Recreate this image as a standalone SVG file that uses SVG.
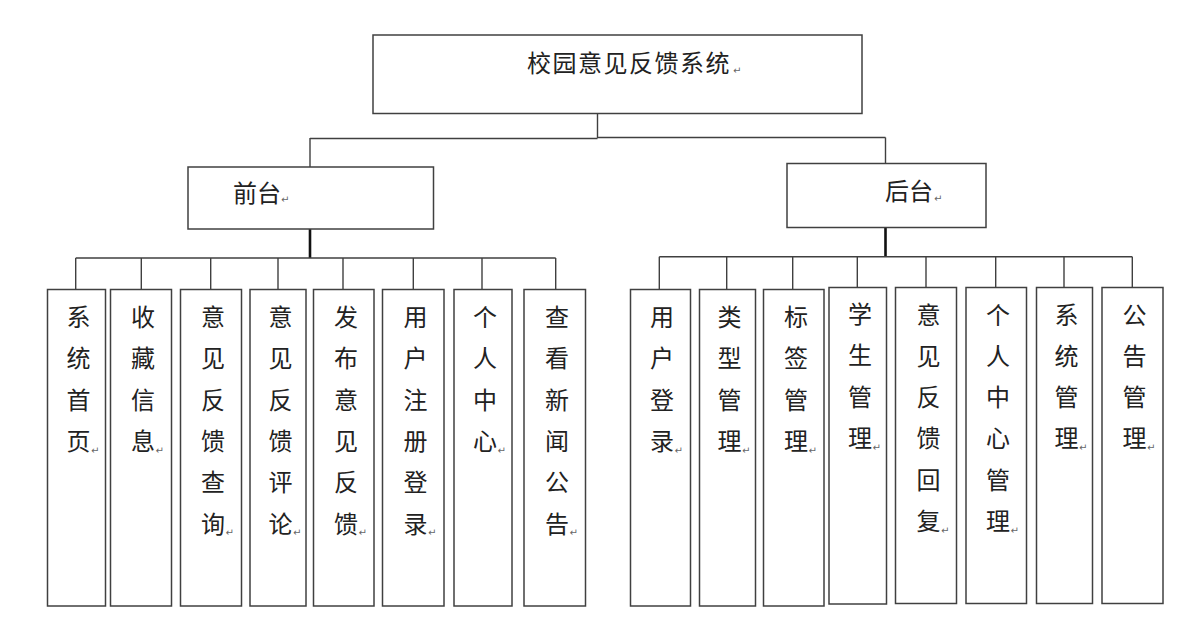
<svg xmlns="http://www.w3.org/2000/svg" width="1188" height="625" viewBox="0 0 1188 625">
<style>
.box{fill:#fff;stroke:#404040;stroke-width:1.5}
.ln{fill:none;stroke:#404040;stroke-width:1.4}
.thk{fill:none;stroke:#111;stroke-width:2.6}
.t{font-family:"Noto Sans CJK SC","Noto Sans CJK JP",sans-serif;font-size:24px;fill:#222}
.v{font-family:"Noto Sans CJK SC","Noto Sans CJK JP",sans-serif;font-size:24px;fill:#222;text-anchor:middle}
.m{font-family:"DejaVu Sans",sans-serif;font-size:10px;fill:#666}
</style>
<rect width="1188" height="625" fill="#fff"/>
<g id="connectors">
<path class="ln" d="M597.5 113.5V138M310 138.5H597.5M597.5 137.5H885.5M310 138V167M885.5 137.5V163.5"/>
<path class="thk" d="M310 229V258M885.5 227.5V257"/>
<path class="ln" d="M75.7 258H555.7M75.7 258V289.5M141.3 258V289.5M210.7 258V289.5M278 258V289.5M343 258V289.5M413.3 258V289.5M482 258V289.5M555.7 258V289.5"/>
<path class="ln" d="M659.3 256.7H1132.3M659.3 256.7V289.5M726.7 256.7V289.5M792.7 256.7V289.5M857.3 256.7V287.5M926 256.7V287.5M995.7 256.7V287.5M1064 256.7V287.5M1132.3 256.7V287.5"/>
</g>
<g id="root"><rect class="box" x="373" y="35" width="489" height="78.5"/><text class="t" x="527" y="72" letter-spacing="1.5">校园意见反馈系统</text><text class="m" x="733" y="74">↵</text></g>
<g id="front"><rect class="box" x="188" y="167" width="245.5" height="62"/><text class="t" x="233" y="201.5">前台</text><text class="m" x="281" y="203">↵</text></g>
<g id="back"><rect class="box" x="787" y="163.5" width="199" height="64"/><text class="t" x="885" y="200">后台</text><text class="m" x="934" y="202">↵</text></g>

<g id="f1"><rect class="box" x="47.5" y="289.5" width="58" height="316.5"/><text class="v"><tspan x="78.5" y="326">系</tspan><tspan x="78.5" dy="41.3">统</tspan><tspan x="78.5" dy="41.3">首</tspan><tspan x="78.5" dy="41.3">页</tspan></text><text class="m" x="91" y="453.5">↵</text></g>
<g id="f2"><rect class="box" x="110.5" y="289.5" width="61" height="316.5"/><text class="v"><tspan x="143" y="326">收</tspan><tspan x="143" dy="41.3">藏</tspan><tspan x="143" dy="41.3">信</tspan><tspan x="143" dy="41.3">息</tspan></text><text class="m" x="155.5" y="453.5">↵</text></g>
<g id="f3"><rect class="box" x="180.5" y="289.5" width="61" height="316.5"/><text class="v"><tspan x="213" y="326">意</tspan><tspan x="213" dy="41.3">见</tspan><tspan x="213" dy="41.3">反</tspan><tspan x="213" dy="41.3">馈</tspan><tspan x="213" dy="41.3">查</tspan><tspan x="213" dy="41.3">询</tspan></text><text class="m" x="225.5" y="536">↵</text></g>
<g id="f4"><rect class="box" x="250" y="289.5" width="56" height="316.5"/><text class="v"><tspan x="280.5" y="326">意</tspan><tspan x="280.5" dy="41.3">见</tspan><tspan x="280.5" dy="41.3">反</tspan><tspan x="280.5" dy="41.3">馈</tspan><tspan x="280.5" dy="41.3">评</tspan><tspan x="280.5" dy="41.3">论</tspan></text><text class="m" x="293" y="536">↵</text></g>
<g id="f5"><rect class="box" x="313.5" y="289.5" width="60.5" height="316.5"/><text class="v"><tspan x="346" y="326">发</tspan><tspan x="346" dy="41.3">布</tspan><tspan x="346" dy="41.3">意</tspan><tspan x="346" dy="41.3">见</tspan><tspan x="346" dy="41.3">反</tspan><tspan x="346" dy="41.3">馈</tspan></text><text class="m" x="358.5" y="536">↵</text></g>
<g id="f6"><rect class="box" x="382.5" y="289.5" width="61.5" height="316.5"/><text class="v"><tspan x="415.5" y="326">用</tspan><tspan x="415.5" dy="41.3">户</tspan><tspan x="415.5" dy="41.3">注</tspan><tspan x="415.5" dy="41.3">册</tspan><tspan x="415.5" dy="41.3">登</tspan><tspan x="415.5" dy="41.3">录</tspan></text><text class="m" x="428" y="536">↵</text></g>
<g id="f7"><rect class="box" x="454" y="289.5" width="58" height="316.5"/><text class="v"><tspan x="485" y="326">个</tspan><tspan x="485" dy="41.3">人</tspan><tspan x="485" dy="41.3">中</tspan><tspan x="485" dy="41.3">心</tspan></text><text class="m" x="497.5" y="453.5">↵</text></g>
<g id="f8"><rect class="box" x="524" y="289.5" width="61.5" height="316.5"/><text class="v"><tspan x="557" y="326">查</tspan><tspan x="557" dy="41.3">看</tspan><tspan x="557" dy="41.3">新</tspan><tspan x="557" dy="41.3">闻</tspan><tspan x="557" dy="41.3">公</tspan><tspan x="557" dy="41.3">告</tspan></text><text class="m" x="569.5" y="536">↵</text></g>

<g id="b1"><rect class="box" x="630.5" y="289.5" width="60" height="316.5"/><text class="v"><tspan x="662" y="326">用</tspan><tspan x="662" dy="41.3">户</tspan><tspan x="662" dy="41.3">登</tspan><tspan x="662" dy="41.3">录</tspan></text><text class="m" x="674.5" y="453.5">↵</text></g>
<g id="b2"><rect class="box" x="699.5" y="289.5" width="56" height="316.5"/><text class="v"><tspan x="729.5" y="326">类</tspan><tspan x="729.5" dy="41.3">型</tspan><tspan x="729.5" dy="41.3">管</tspan><tspan x="729.5" dy="41.3">理</tspan></text><text class="m" x="742" y="453.5">↵</text></g>
<g id="b3"><rect class="box" x="763.5" y="289.5" width="60.5" height="316.5"/><text class="v"><tspan x="796" y="326">标</tspan><tspan x="796" dy="41.3">签</tspan><tspan x="796" dy="41.3">管</tspan><tspan x="796" dy="41.3">理</tspan></text><text class="m" x="808.5" y="453.5">↵</text></g>
<g id="b4"><rect class="box" x="829" y="287.5" width="57.5" height="316.5"/><text class="v"><tspan x="860" y="323">学</tspan><tspan x="860" dy="41.3">生</tspan><tspan x="860" dy="41.3">管</tspan><tspan x="860" dy="41.3">理</tspan></text><text class="m" x="872.5" y="450.5">↵</text></g>
<g id="b5"><rect class="box" x="895.5" y="287.5" width="61" height="316"/><text class="v"><tspan x="928.5" y="323.5">意</tspan><tspan x="928.5" dy="41.3">见</tspan><tspan x="928.5" dy="41.3">反</tspan><tspan x="928.5" dy="41.3">馈</tspan><tspan x="928.5" dy="41.3">回</tspan><tspan x="928.5" dy="41.3">复</tspan></text><text class="m" x="941" y="533.5">↵</text></g>
<g id="b6"><rect class="box" x="966" y="287.5" width="60.5" height="316"/><text class="v"><tspan x="998" y="323.5">个</tspan><tspan x="998" dy="41.3">人</tspan><tspan x="998" dy="41.3">中</tspan><tspan x="998" dy="41.3">心</tspan><tspan x="998" dy="41.3">管</tspan><tspan x="998" dy="41.3">理</tspan></text><text class="m" x="1010.5" y="533.5">↵</text></g>
<g id="b7"><rect class="box" x="1036.5" y="287.5" width="56" height="316"/><text class="v"><tspan x="1066.5" y="323.5">系</tspan><tspan x="1066.5" dy="41.3">统</tspan><tspan x="1066.5" dy="41.3">管</tspan><tspan x="1066.5" dy="41.3">理</tspan></text><text class="m" x="1079" y="451">↵</text></g>
<g id="b8"><rect class="box" x="1102" y="287.5" width="61" height="316"/><text class="v"><tspan x="1134.5" y="323.5">公</tspan><tspan x="1134.5" dy="41.3">告</tspan><tspan x="1134.5" dy="41.3">管</tspan><tspan x="1134.5" dy="41.3">理</tspan></text><text class="m" x="1147" y="451">↵</text></g>
</svg>
